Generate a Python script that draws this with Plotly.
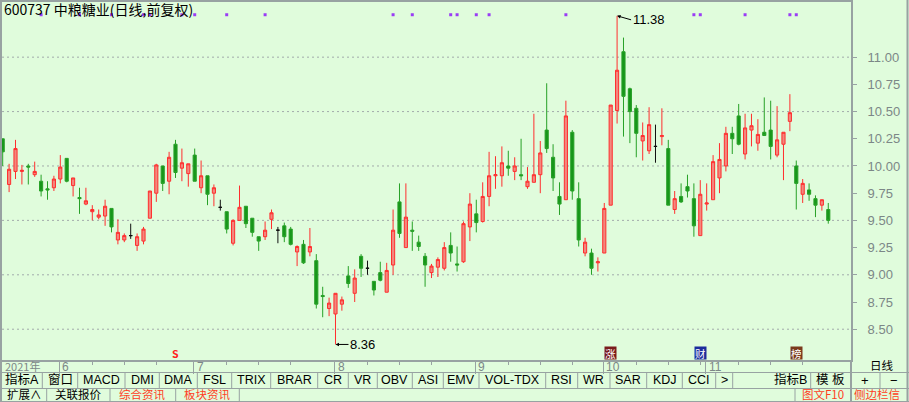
import plotly.graph_objects as go

# ---------------- data ----------------
OPEN = [10.25, 9.83, 9.95, 9.95, 10.00, 9.92, 9.86, 9.79, 9.80, 9.88,
        10.07, 9.82, 9.71, 9.65, 9.58, 9.53, 9.54, 9.61, 9.32, 9.32,
        9.36, 9.27, 9.31, 9.52, 9.75, 10.00, 9.86, 10.20, 9.98, 9.93,
        10.10, 9.80, 9.91, 9.75, 9.62, 9.58, 9.29, 9.50, 9.63, 9.52,
        9.35, 9.35, 9.51, 9.41, 9.45, 9.42, 9.21, 9.28, 9.21, 9.13,
        8.81, 8.69, 8.64, 8.73, 8.99, 8.83, 9.17, 9.06, 8.94, 9.02,
        8.84, 9.09, 9.67, 9.25, 9.41, 9.30, 9.17, 9.02, 9.07, 9.06,
        9.27, 9.10, 9.12, 9.44, 9.56, 9.49, 9.72, 9.91, 9.91, 10.00,
        9.95, 9.92, 9.81, 9.85, 9.92, 10.33, 10.08, 9.72, 9.69, 10.31,
        9.70, 9.20, 9.20, 9.11, 9.20, 9.64, 10.51, 11.05, 10.71, 10.53,
        10.23, 10.14, 10.18, 10.27, 10.16, 9.60, 9.72, 9.81, 9.70, 9.36,
        9.65, 9.69, 9.89, 10.00, 10.30, 10.46, 10.11, 10.33, 10.21, 10.31,
        10.33, 10.10, 10.20, 10.41, 10.00, 9.74, 9.78, 9.70, 9.64, 9.60]
HIGH = [10.25, 10.02, 10.24, 10.01, 10.02, 10.04, 9.92, 9.86, 9.91, 10.10,
        10.07, 9.89, 9.80, 9.80, 9.64, 9.60, 9.69, 9.61, 9.51, 9.38,
        9.47, 9.38, 9.44, 9.77, 10.02, 10.00, 10.13, 10.24, 10.16, 10.02,
        10.16, 10.05, 9.91, 9.83, 9.69, 9.58, 9.51, 9.82, 9.63, 9.52,
        9.35, 9.49, 9.60, 9.44, 9.48, 9.44, 9.27, 9.32, 9.43, 9.19,
        8.89, 8.79, 8.83, 8.80, 9.08, 9.05, 9.19, 9.13, 8.94, 9.12,
        9.11, 9.60, 9.84, 9.84, 9.49, 9.36, 9.20, 9.10, 9.16, 9.30,
        9.39, 9.26, 9.49, 9.75, 9.69, 9.85, 10.13, 10.09, 10.18, 10.14,
        10.08, 10.25, 9.99, 10.48, 10.23, 10.76, 10.20, 9.85, 10.60, 10.33,
        9.85, 9.34, 9.24, 9.16, 9.66, 10.56, 11.38, 11.18, 10.72, 10.56,
        10.40, 10.54, 10.38, 10.53, 10.24, 9.77, 9.84, 9.92, 9.84, 9.87,
        9.84, 10.10, 10.21, 10.36, 10.36, 10.57, 10.48, 10.48, 10.43, 10.63,
        10.60, 10.55, 10.31, 10.66, 10.05, 9.88, 9.84, 9.73, 9.69, 9.66]
LOW = [10.00, 9.76, 9.88, 9.83, 9.83, 9.90, 9.72, 9.69, 9.77, 9.84,
       9.85, 9.72, 9.56, 9.64, 9.50, 9.51, 9.45, 9.39, 9.28, 9.30,
       9.33, 9.22, 9.28, 9.52, 9.67, 9.77, 9.74, 9.89, 9.86, 9.81,
       9.86, 9.75, 9.64, 9.63, 9.59, 9.38, 9.27, 9.50, 9.43, 9.35,
       9.22, 9.32, 9.42, 9.29, 9.30, 9.27, 9.08, 9.10, 9.17, 8.69,
       8.61, 8.62, 8.36, 8.67, 8.88, 8.75, 8.98, 9.00, 8.81, 8.94,
       8.84, 9.00, 9.34, 9.25, 9.22, 9.22, 8.89, 8.97, 8.98, 9.04,
       9.12, 9.03, 9.11, 9.31, 9.39, 9.48, 9.63, 9.79, 9.81, 9.91,
       9.87, 9.87, 9.79, 9.85, 9.75, 10.12, 9.77, 9.55, 9.69, 9.69,
       9.26, 9.17, 9.00, 9.03, 9.20, 9.64, 10.39, 10.27, 10.21, 10.08,
       10.05, 10.11, 10.03, 10.19, 9.64, 9.56, 9.66, 9.71, 9.35, 9.36,
       9.59, 9.69, 9.75, 9.95, 10.11, 10.19, 10.06, 10.18, 10.14, 10.28,
       10.06, 10.08, 9.87, 10.32, 9.60, 9.66, 9.68, 9.53, 9.59, 9.47]
CLOSE = [10.13, 9.97, 10.16, 9.96, 9.99, 9.95, 9.77, 9.78, 9.88, 9.99,
         9.86, 9.89, 9.70, 9.68, 9.60, 9.55, 9.63, 9.44, 9.39, 9.36,
         9.36, 9.35, 9.42, 9.77, 10.01, 9.84, 10.08, 9.94, 10.03, 10.02,
         9.86, 9.91, 9.74, 9.80, 9.62, 9.42, 9.50, 9.62, 9.47, 9.39,
         9.31, 9.41, 9.57, 9.41, 9.35, 9.28, 9.26, 9.11, 9.26, 8.73,
         8.80, 8.74, 8.83, 8.77, 8.92, 8.97, 9.06, 9.06, 8.86, 8.95,
         9.04, 9.41, 9.38, 9.53, 9.40, 9.26, 9.09, 9.08, 9.14, 9.25,
         9.20, 9.09, 9.47, 9.65, 9.48, 9.72, 9.91, 9.92, 10.03, 9.98,
         10.00, 9.91, 9.86, 9.92, 10.12, 10.16, 9.89, 9.65, 10.46, 9.77,
         9.32, 9.30, 9.06, 9.12, 9.61, 10.56, 10.88, 10.64, 10.50, 10.30,
         10.28, 10.38, 10.18, 10.28, 9.64, 9.70, 9.67, 9.77, 9.45, 9.74,
         9.66, 10.04, 10.06, 10.30, 10.25, 10.20, 10.35, 10.37, 10.29, 10.28,
         10.18, 10.24, 10.31, 10.49, 9.84, 9.84, 9.74, 9.64, 9.69, 9.50]
# candles drawn in black (open == close, flat days)
BLACK_IDX = [20, 34, 43, 57, 102]

MONTH_START = [9, 30, 52, 74, 94, 110]
MONTH_LABELS = ["6", "7", "8", "9", "10", "11"]
YEAR_LABEL = "2021年"
Y_TICKS = [8.5, 8.75, 9.0, 9.25, 9.5, 9.75, 10.0, 10.25, 10.5, 10.75, 11.0]
GRID_LEVELS = [8.5, 9.0, 9.5, 10.0, 10.5, 11.0]
INFO_MARKS = [6, 12, 17, 22, 23, 28, 30, 35, 41, 61, 64, 70, 71, 74, 76, 88,
              108, 109, 116, 123, 124]
EVENTS = [(27, "S", None, "#ff2020"), (95, "涨", "#7a1c1c", "#ffffff"),
          (109, "财", "#1c2c9c", "#ffffff"), (124, "榜", "#7a3a1c", "#ffffff")]
TITLE = "600737 中粮糖业(日线,前复权)"

ROW1 = ["指标A", "窗口", "MACD", "DMI", "DMA", "FSL", "TRIX", "BRAR", "CR", "VR",
        "OBV", "ASI", "EMV", "VOL-TDX", "RSI", "WR", "SAR", "KDJ", "CCI", ">"]
ROW1_SEP = [42.3, 77.7, 125, 159.3, 197.3, 231.7, 270.7, 317.7, 348.3, 377.3,
            412.3, 443.3, 479, 545.7, 577.7, 610, 646.7, 682.3, 715.7, 732.7]
ROW2 = [("扩展∧", "#000000"), ("关联报价", "#000000"),
        ("综合资讯", "#ff3c1e"), ("板块资讯", "#ff3c1e")]
ROW2_SEP = [46.7, 110, 175.7, 239.3]

# ---------------- style ----------------
BG = "#e0fcdc"
GRID = "#a2abab"
AXIS = "#98a2a2"
TXT_GREY = "#7c8787"
UP_LINE = "#ff2e2e"
UP_FILL = "#f2887e"
DN_LINE = "#27a127"
DN_FILL = "#17961a"
FONT = "Liberation Sans, Noto Sans CJK SC, sans-serif"
CJK = "Noto Sans CJK SC, sans-serif"

W, H = 909, 402
L, R, T, B = 2, 851, 2, 360


def px(X):
    return (X - L) / (R - L)


def py(Y):
    return (B - Y) / (B - T)


n = len(OPEN)
xs = list(range(n))
mo = [None if i in BLACK_IDX else OPEN[i] for i in xs]
mh = [None if i in BLACK_IDX else HIGH[i] for i in xs]
ml = [None if i in BLACK_IDX else LOW[i] for i in xs]
mc = [None if i in BLACK_IDX else CLOSE[i] for i in xs]

fig = go.Figure()
fig.add_trace(go.Candlestick(
    x=xs, open=mo, high=mh, low=ml, close=mc,
    increasing=dict(line=dict(color=UP_LINE, width=1), fillcolor=UP_FILL),
    decreasing=dict(line=dict(color=DN_LINE, width=1), fillcolor=DN_FILL),
    showlegend=False, hoverinfo="skip"))
fig.add_trace(go.Candlestick(
    x=BLACK_IDX, open=[OPEN[i] for i in BLACK_IDX], high=[HIGH[i] for i in BLACK_IDX],
    low=[LOW[i] for i in BLACK_IDX], close=[CLOSE[i] for i in BLACK_IDX],
    increasing=dict(line=dict(color="#101010", width=1), fillcolor="#101010"),
    decreasing=dict(line=dict(color="#101010", width=1), fillcolor="#101010"),
    showlegend=False, hoverinfo="skip"))

MARK_LEVEL = 11.39
fig.add_trace(go.Scatter(
    x=INFO_MARKS, y=[MARK_LEVEL] * len(INFO_MARKS), mode="markers",
    marker=dict(symbol="square", size=3, color="#9a3cf5", line=dict(width=0)),
    showlegend=False, hoverinfo="skip"))

shapes = []
for g in GRID_LEVELS:
    shapes.append(dict(type="line", xref="paper", yref="y", x0=0, x1=1, y0=g, y1=g,
                       line=dict(color=GRID, width=1, dash="2px,3px"), layer="below"))


def hline(Y, X0=0, X1=W, color=AXIS, width=1):
    shapes.append(dict(type="line", xref="paper", yref="paper", x0=px(X0), x1=px(X1),
                       y0=py(Y), y1=py(Y), line=dict(color=color, width=width)))


def vline(X, Y0, Y1, color=AXIS, width=1):
    shapes.append(dict(type="line", xref="paper", yref="paper", x0=px(X), x1=px(X),
                       y0=py(Y0), y1=py(Y1), line=dict(color=color, width=width)))


hline(372.5, 0, W)
hline(388.5, 0, W)
hline(401.5, 0, W)
vline(1, 360, 402, width=2)
vline(R, 360, 402, width=2)
vline(907.5, 0, 402, width=2)
for s in ROW1_SEP:
    vline(s, 373, 388)
vline(810.7, 373, 388)
vline(880, 373, 388)
for s in ROW2_SEP:
    vline(s, 389, 402)
vline(795, 389, 402)

annotations = []


def text(X, Y, s, color="#000000", size=12, anchor="center", family=FONT, bg=None):
    annotations.append(dict(xref="paper", yref="paper", x=px(X), y=py(Y), text=s,
                            showarrow=False, xanchor=anchor, yanchor="middle",
                            font=dict(color=color, size=size, family=family),
                            bgcolor=bg, borderpad=0))


text(3, 8.5, TITLE, anchor="left", family=CJK, size=14)
text(4, 366, YEAR_LABEL, color=TXT_GREY, anchor="left", size=11, family=CJK)
for mi, lab in zip(MONTH_START, MONTH_LABELS):
    annotations.append(dict(xref="x", yref="paper", x=mi - 0.15, y=py(366.5), text=lab,
                            showarrow=False, xanchor="left", yanchor="middle", xshift=1,
                            font=dict(color=TXT_GREY, size=12, family=FONT)))
text(882, 365.5, "日线", family=CJK, size=11.5)

edges = [2] + ROW1_SEP
for k, lab in enumerate(ROW1):
    text((edges[k] + edges[k + 1]) / 2, 379.5, lab, size=12.5)
text(808, 379.5, "指标B", anchor="right", size=12.5)
text(830, 379.5, "模 板", size=12.5)
text(865.5, 380, "+", size=13)
text(894.5, 380, "−", size=13)
edges2 = [2] + ROW2_SEP
for k, (lab, col) in enumerate(ROW2):
    text((edges2[k] + edges2[k + 1]) / 2, 394.2, lab, color=col, family=CJK, size=11.5)
text(823, 394.2, "图文F10", color="#ff3c1e", family=CJK, size=11.5)
text(853, 394.2, "侧边栏信", color="#ff3c1e", family=CJK, anchor="left", size=11.5)

# high / low markers
hi = HIGH.index(max(HIGH))
lo = LOW.index(min(LOW))
annotations.append(dict(x=hi, y=HIGH[hi], xref="x", yref="y", text=f"{HIGH[hi]:.2f}",
                        showarrow=True, arrowhead=2, arrowsize=0.7, arrowwidth=1,
                        arrowcolor="#000", ax=14, ay=4, xanchor="left",
                        font=dict(size=13, color="#000", family=FONT)))
annotations.append(dict(x=lo, y=LOW[lo], xref="x", yref="y", text=f"{LOW[lo]:.2f}",
                        showarrow=True, arrowhead=2, arrowsize=0.7, arrowwidth=1,
                        arrowcolor="#000", ax=13, ay=0, xanchor="left",
                        font=dict(size=13, color="#000", family=FONT)))

for idx, s, bg, fc in EVENTS:
    annotations.append(dict(x=idx, y=py(352.5), xref="x", yref="paper",
                            text=f"<b>{s}</b>" if bg is None else s,
                            showarrow=False, xanchor="center", yanchor="middle",
                            bgcolor=bg, borderpad=0, height=12,
                            font=dict(size=10.5, color=fc, family=CJK)))

fig.update_layout(
    width=W, height=H, margin=dict(l=L, r=W - R, t=T, b=H - B, autoexpand=False),
    paper_bgcolor=BG, plot_bgcolor=BG,
    shapes=shapes, annotations=annotations,
    xaxis=dict(range=[-0.11, 132.55], showgrid=False, zeroline=False,
               rangeslider=dict(visible=False), showline=True, mirror=True,
               linecolor=AXIS, linewidth=2,
               tickmode="array", tickvals=[m - 0.15 for m in MONTH_START],
               ticktext=[""] * len(MONTH_START), ticks="outside", ticklen=12,
               tickcolor=AXIS, tickwidth=1,
               minor=dict(tickmode="array",
                          tickvals=[m + k for m in MONTH_START for k in (5, 10, 15)],
                          ticks="outside", ticklen=3, tickcolor=AXIS)),
    yaxis=dict(range=[8.217, 11.507], side="right", showgrid=False, zeroline=False,
               showline=True, mirror=True, linecolor=AXIS, linewidth=2,
               tickmode="array", tickvals=Y_TICKS,
               ticktext=[f"{v:.2f}" for v in Y_TICKS],
               ticks="outside", ticklen=4, tickcolor=AXIS,
               tickfont=dict(color=TXT_GREY, size=13, family=FONT), ticklabelstandoff=8),
    boxgap=0.3,
)

fig.write_html("out.html", config={"displayModeBar": False},
               post_script="document.body.style.margin='0px';"
               "document.body.style.overflow='hidden';")
